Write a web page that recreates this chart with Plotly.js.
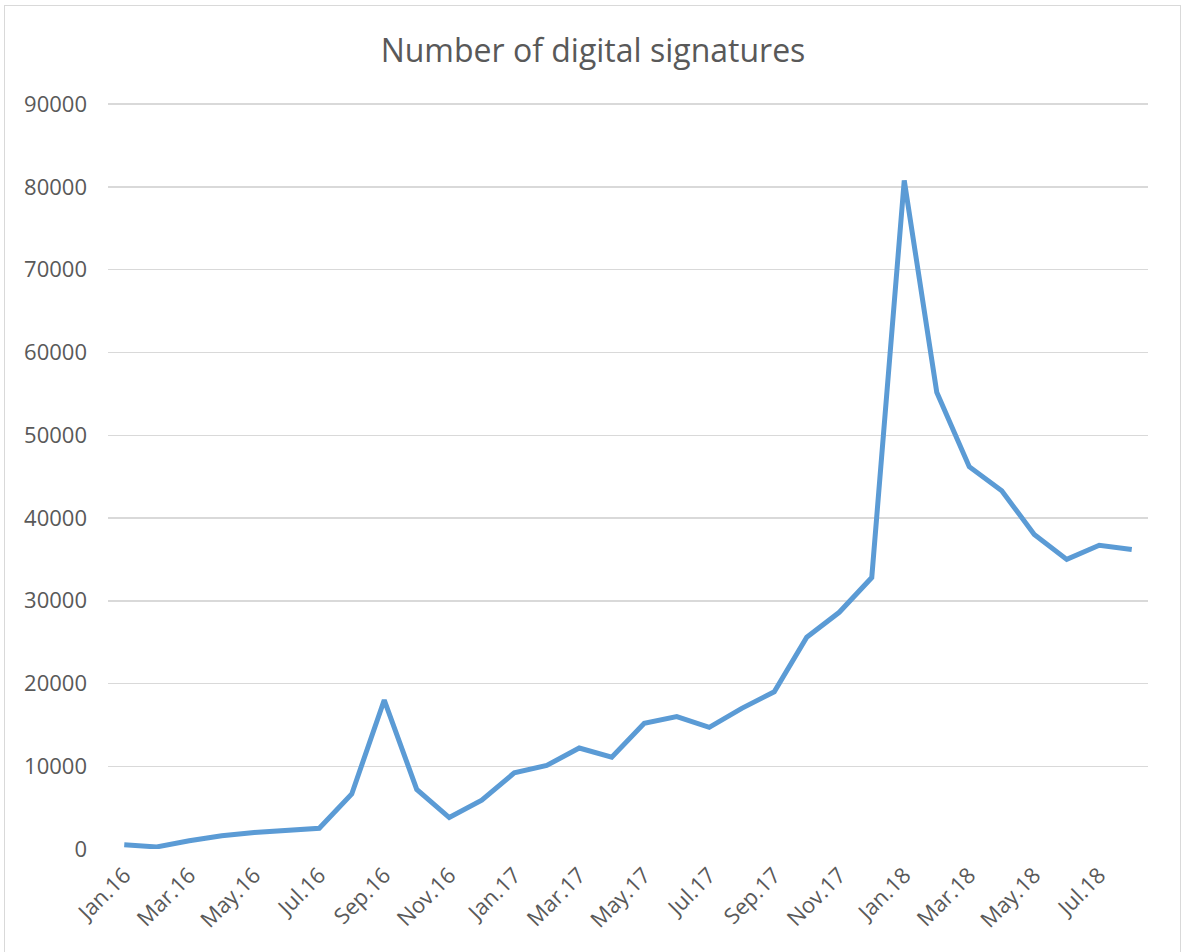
<!DOCTYPE html>
<html>
<head>
<meta charset="utf-8">
<script src="https://cdn.plot.ly/plotly-3.0.1.min.js"></script>
<style>
  html, body { margin: 0; padding: 0; background: #fff; }
  #wrap { position: relative; width: 1186px; height: 952px; overflow: hidden; }
  #chart { width: 1186px; height: 952px; }
  #frame { position: absolute; left: 4px; top: 5px; width: 1175px; height: 970px;
           border: 1.5px solid #d9d9d9; pointer-events: none; }
</style>
</head>
<body>
<div id="wrap">
  <div id="chart"></div>
  <div id="frame"></div>
</div>
<script>
const months = [
  "Jan.16","Feb.16","Mar.16","Apr.16","May.16","Jun.16","Jul.16","Aug.16","Sep.16","Oct.16","Nov.16","Dec.16",
  "Jan.17","Feb.17","Mar.17","Apr.17","May.17","Jun.17","Jul.17","Aug.17","Sep.17","Oct.17","Nov.17","Dec.17",
  "Jan.18","Feb.18","Mar.18","Apr.18","May.18","Jun.18","Jul.18","Aug.18"
];
const signatures = [
  500, 250, 1000, 1600, 2000, 2300, 2500, 6650, 18000, 7200, 3800, 5900,
  9200, 10100, 12200, 11100, 15200, 16000, 14700, 17000, 19000, 25600, 28600, 32800,
  80800, 55200, 46200, 43300, 38000, 35000, 36700, 36200
];
const tickLabels = months.filter((m, i) => i % 2 === 0);
const yTicks = [0, 10000, 20000, 30000, 40000, 50000, 60000, 70000, 80000, 90000];

const font = "'Open Sans', Carlito, Calibri, Lato, sans-serif";

Plotly.newPlot('chart', [{
  x: months,
  y: signatures,
  type: 'scatter',
  mode: 'lines',
  line: { color: '#5b9bd5', width: 5, shape: 'linear' },
  hoverinfo: 'x+y'
}], {
  width: 1186,
  height: 952,
  paper_bgcolor: '#ffffff',
  plot_bgcolor: '#ffffff',
  margin: { l: 108, r: 38, t: 103, b: 103 },
  title: {
    text: 'Number of digital signatures',
    font: { family: font, size: 32, color: '#595959' },
    x: 0.5, xanchor: 'center',
    y: 0.947, yanchor: 'middle', yref: 'container'
  },
  showlegend: false,
  xaxis: {
    type: 'category',
    range: [-0.5, months.length - 0.5],
    tickvals: tickLabels,
    ticktext: tickLabels,
    tickangle: -45,
    tickfont: { family: font, size: 22, color: '#595959' },
    showgrid: false,
    zeroline: false,
    showline: false,
    ticks: '',
    ticklen: 0,
    ticklabelstandoff: 8
  },
  yaxis: {
    range: [0, 90150],
    tickvals: yTicks,
    ticktext: yTicks.map(String),
    tickfont: { family: font, size: 22, color: '#595959' },
    showgrid: true,
    gridcolor: '#d9d9d9',
    gridwidth: 1.5,
    zeroline: false,
    showline: false,
    ticks: '',
    ticklabelstandoff: 20
  }
}, { displayModeBar: false, staticPlot: true });
</script>
</body>
</html>
